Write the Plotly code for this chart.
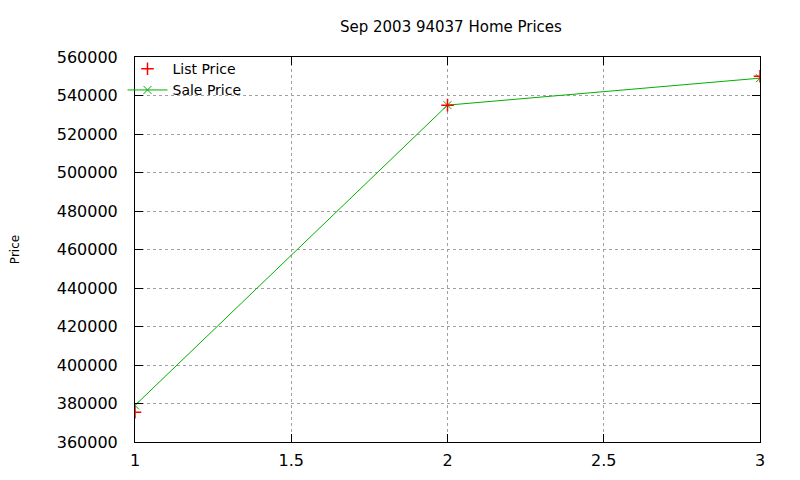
import plotly.graph_objs as go

# Values
x_vals = [1, 2, 3]
list_price = [375500, 535000, 550000]
sale_price = [379000, 535000, 549000]
x_ticks = [1, 1.5, 2, 2.5, 3]
x_tick_text = ['1', '1.5', '2', '2.5', '3']

FONT = 'DejaVu Sans'
GRID = 'rgba(160,160,160,1)'

fig = go.Figure()
# sale line drawn first so the red crosses sit on top, like the original
fig.add_trace(go.Scatter(
    x=x_vals, y=sale_price, name='Sale Price', mode='lines+markers',
    line=dict(color='#00b000', width=1),
    marker=dict(symbol='x-thin', size=8, line=dict(color='#00b000', width=1)),
))
fig.add_trace(go.Scatter(
    x=x_vals, y=list_price, name='List Price', mode='markers',
    marker=dict(symbol='cross-thin', size=9, line=dict(color='#ff0000', width=1.5)),
))

axis_common = dict(
    showline=True, linecolor='black', linewidth=1, mirror='ticks',
    ticks='inside', ticklen=8, tickcolor='black', automargin=False,
    showgrid=True, gridcolor=GRID, griddash='dot', gridwidth=1,
    zeroline=False, tickfont=dict(family=FONT, size=16, color='black'),
)

# page has an 8px body margin, so the figure is 784x464 and offsets shrink by 8
fig.update_layout(
    width=784, height=464,
    margin=dict(l=127, r=32, t=49, b=30),
    paper_bgcolor='white', plot_bgcolor='white',
    font=dict(family=FONT, size=14, color='black'),
    title=dict(text='Sep 2003 94037 Home Prices', x=0.565, xanchor='center',
               y=0.96, yanchor='middle', font=dict(family=FONT, size=15)),
    xaxis=dict(range=[1, 3], tickvals=x_ticks, ticktext=x_tick_text,
               ticklabelstandoff=4, **axis_common),
    yaxis=dict(range=[360000, 560000], dtick=20000, tickformat='d',
               ticklabelstandoff=13,
               title=dict(text='Price', standoff=48, font=dict(size=12)),
               **axis_common),
    legend=dict(x=-0.02, y=1.01, xanchor='left', yanchor='top', traceorder='reversed',
                bgcolor='rgba(0,0,0,0)', font=dict(family=FONT, size=14),
                itemwidth=40, tracegroupgap=0),
    showlegend=True,
)

fig.write_html('out.html')
